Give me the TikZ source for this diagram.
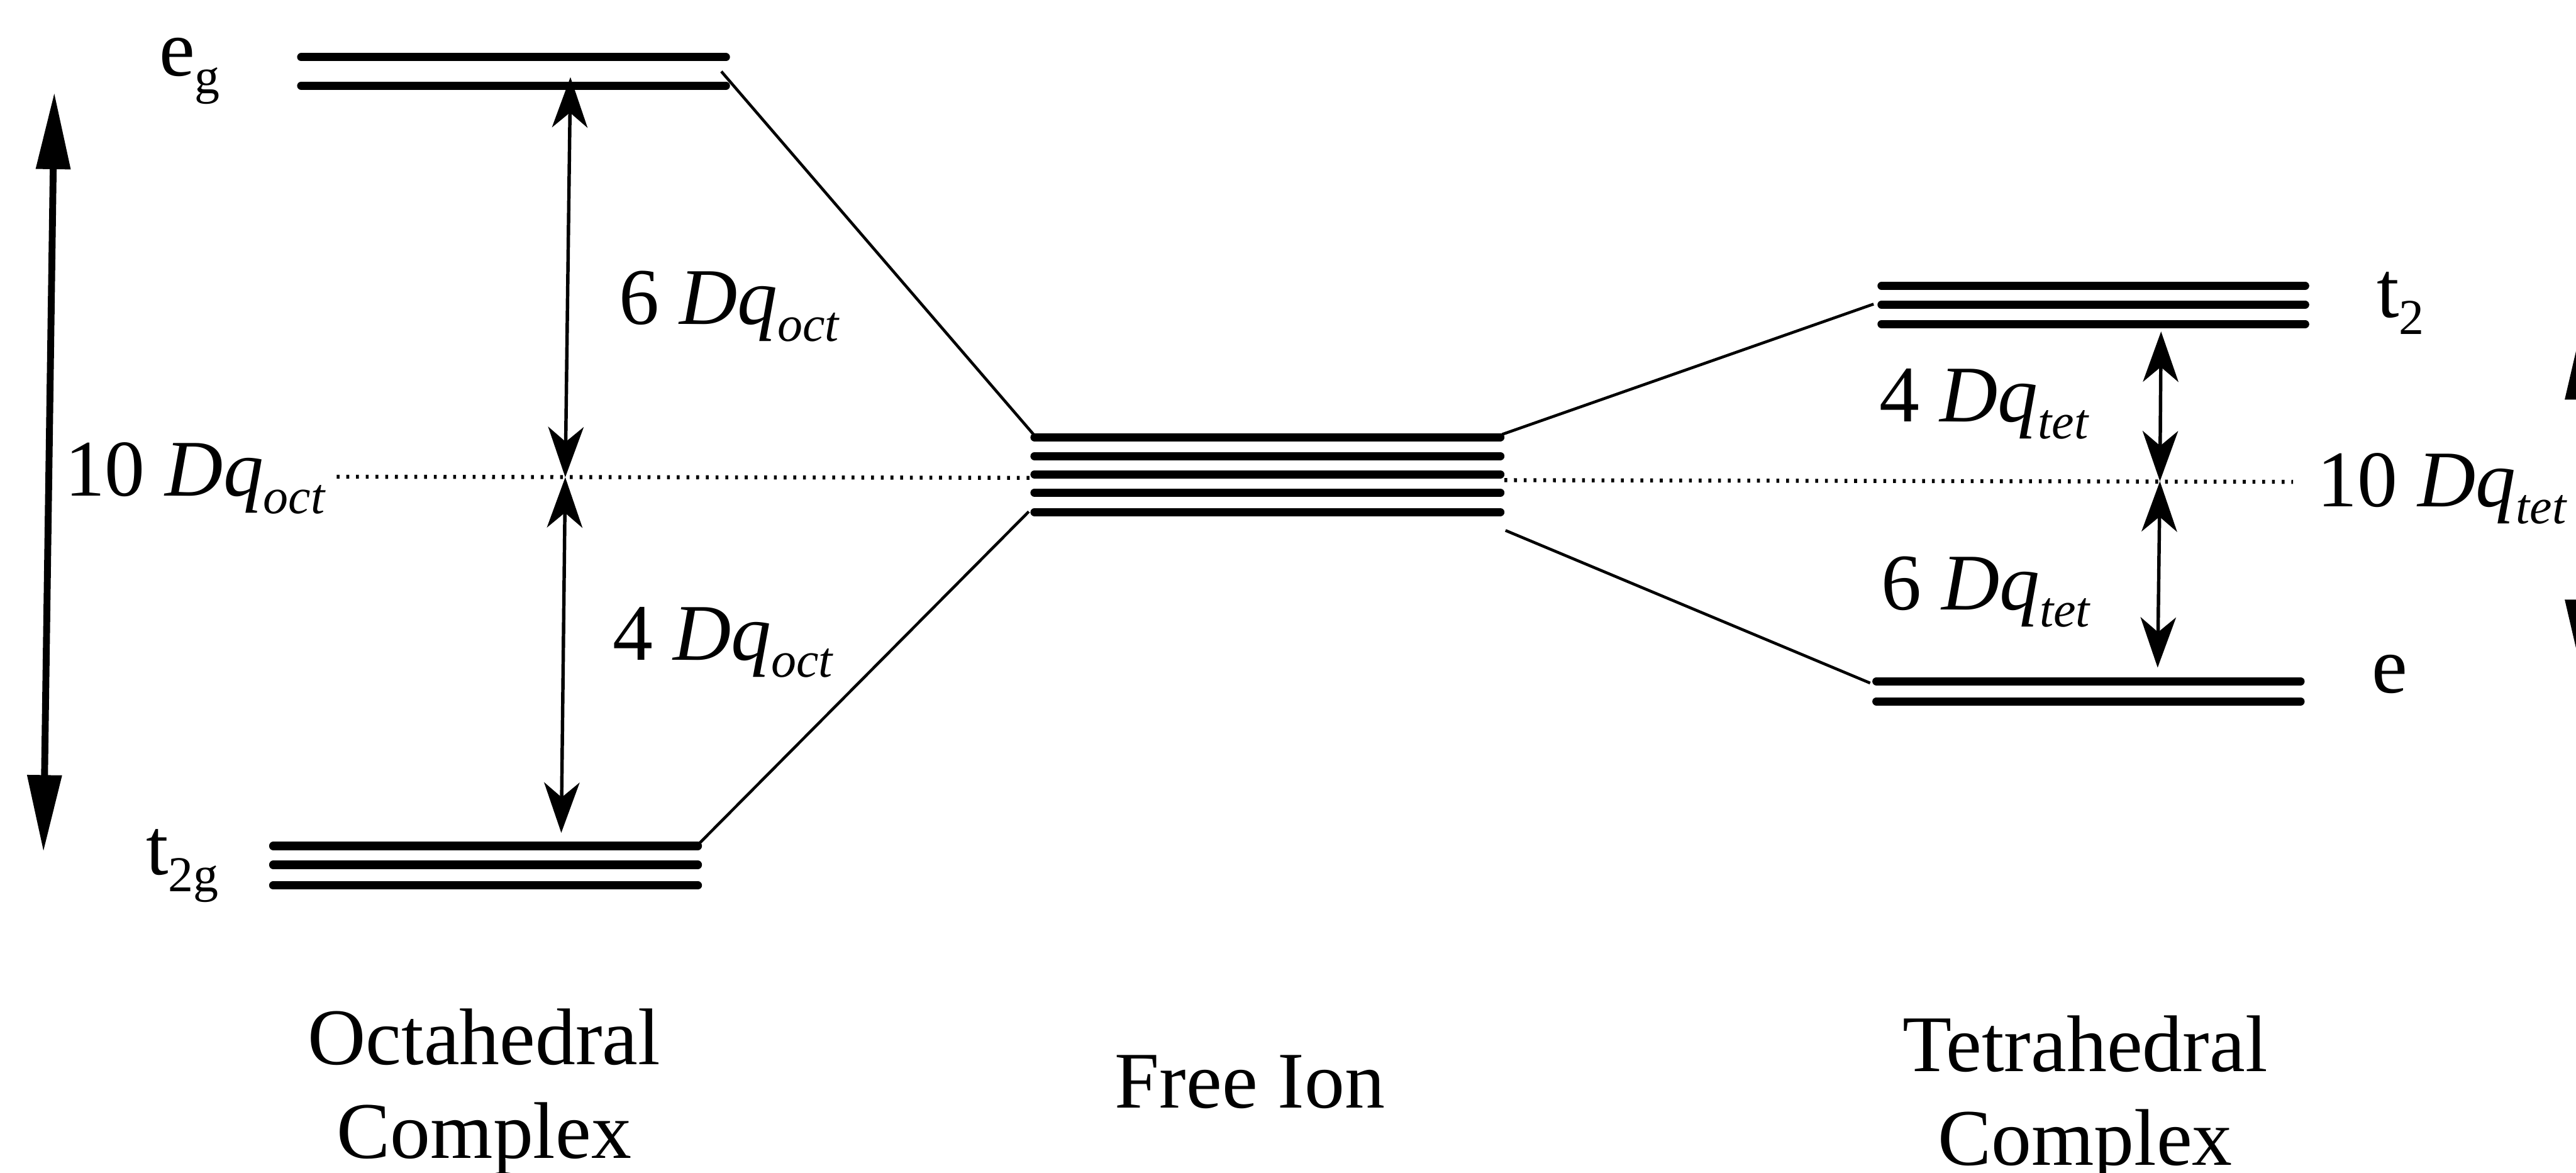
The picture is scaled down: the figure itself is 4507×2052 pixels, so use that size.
\documentclass[tikz,border=0pt]{standalone}
\usepackage{fontspec}
\setmainfont{Liberation Serif}
\usetikzlibrary{arrows.meta, calc}

\newcommand{\levsub}[1]{\raisebox{-1.5mm}{\fontsize{12.5}{13}\selectfont #1}}
\newcommand{\dqlabel}[2]{#1 \textit{Dq}\levsub{\textit{#2}}}

\begin{document}
\begin{tikzpicture}[x=0.05mm, y=-0.05mm,
  orbital/.style={line width=0.72mm, line cap=round},
  corr/.style={line width=0.25mm},
  barycentre/.style={line width=0.35mm, dash pattern=on 0.25mm off 0.6mm},
  dqarrow/.style={line width=0.3mm, >={Stealth[length=4.4mm, width=3.1mm, inset=1.3mm]}, <->},
  widearrow/.style={line width=0.6mm, >={Triangle[length=6.7mm, width=2.9mm]}, <->},
  lbl/.style={inner sep=0pt, font=\fontsize{20}{23.4}\selectfont}]
  \useasboundingbox (0,0) rectangle (4507,2052);
  \clip (0,0) rectangle (4507,2052);

  % energy levels
  \foreach \y in {100,150} \draw[orbital] (527,\y) -- (1270,\y);
  \foreach \y in {1480,1513,1549} \draw[orbital] (478,\y) -- (1221,\y);
  \foreach \y in {765,798,830,862,896} \draw[orbital] (1810,\y) -- (2625,\y);
  \foreach \y in {500,533,567} \draw[orbital] (3292,\y) -- (4033,\y);
  \foreach \y in {1192,1227} \draw[orbital] (3283,\y) -- (4025,\y);

  % correlation lines
  \coordinate (egR) at (1262,125);
  \coordinate (tgR) at (1221,1478);
  \coordinate (fTL) at (1810,762);
  \coordinate (fBL) at (1800,895);
  \coordinate (fTR) at (2628,760);
  \coordinate (fBR) at (2634,928);
  \coordinate (ttL) at (3278,532);
  \coordinate (teL) at (3272,1195);
  \draw[corr] (egR) -- (fTL);
  \draw[corr] (tgR) -- (fBL);
  \draw[corr] (fTR) -- (ttL);
  \draw[corr] (fBR) -- (teL);

  % barycentre
  \coordinate (bcA) at (589,834);
  \coordinate (bcB) at (1803,836);
  \coordinate (bcC) at (2632,840);
  \coordinate (bcD) at (4012,843);
  \draw[barycentre] (bcA) -- (bcB);
  \draw[barycentre] (bcC) -- (bcD);

  % splittings
  \coordinate (octTop) at (998,135);
  \coordinate (octMid) at (989,835);
  \coordinate (octBot) at (982,1457);
  \coordinate (tetTop) at (3781,580);
  \coordinate (tetMid) at (3779,842);
  \coordinate (tetBot) at (3775,1168);
  \draw[dqarrow] (octTop) -- (octMid);
  \draw[dqarrow] (octMid) -- (octBot);
  \draw[dqarrow] (tetTop) -- (tetMid);
  \draw[dqarrow] (tetMid) -- (tetBot);

  \coordinate (bigTop) at (95,162);
  \coordinate (bigBot) at (76,1490);
  \coordinate (rTop) at (4518,565);
  \coordinate (rBot) at (4518,1183);
  \draw[widearrow] (bigTop) -- (bigBot);
  \draw[widearrow] (rTop) -- (rBot);

  % labels
  \node[lbl, anchor=base west] (eg) at (277,133) {e\levsub{g}};
  \node[lbl, anchor=base west] (tg) at (254,1530) {t\levsub{2g}};
  \node[lbl, anchor=base west] (tt) at (4157,555) {t\levsub{2}};
  \node[lbl, anchor=base west] (te) at (4148,1212) {e};

  \node[lbl, anchor=base west] (oct10) at (112,868) {\dqlabel{10}{oct}};
  \node[lbl, anchor=base west] (oct6) at (1082,567) {\dqlabel{6}{oct}};
  \node[lbl, anchor=base west] (oct4) at (1071,1155) {\dqlabel{4}{oct}};
  \node[lbl, anchor=base west] (tet4) at (3287,738) {\dqlabel{4}{tet}};
  \node[lbl, anchor=base west] (tet6) at (3290,1067) {\dqlabel{6}{tet}};
  \node[lbl, anchor=base west] (tet10) at (4053,886) {\dqlabel{10}{tet}};

  \node[lbl, anchor=north, align=center] (octname) at (847,1763) {Octahedral\\Complex};
  \node[lbl, anchor=base] (freename) at (2187,1938) {Free Ion};
  \node[lbl, anchor=north, align=center] (tetname) at (3648,1775) {Tetrahedral\\Complex};
\end{tikzpicture}
\end{document}
